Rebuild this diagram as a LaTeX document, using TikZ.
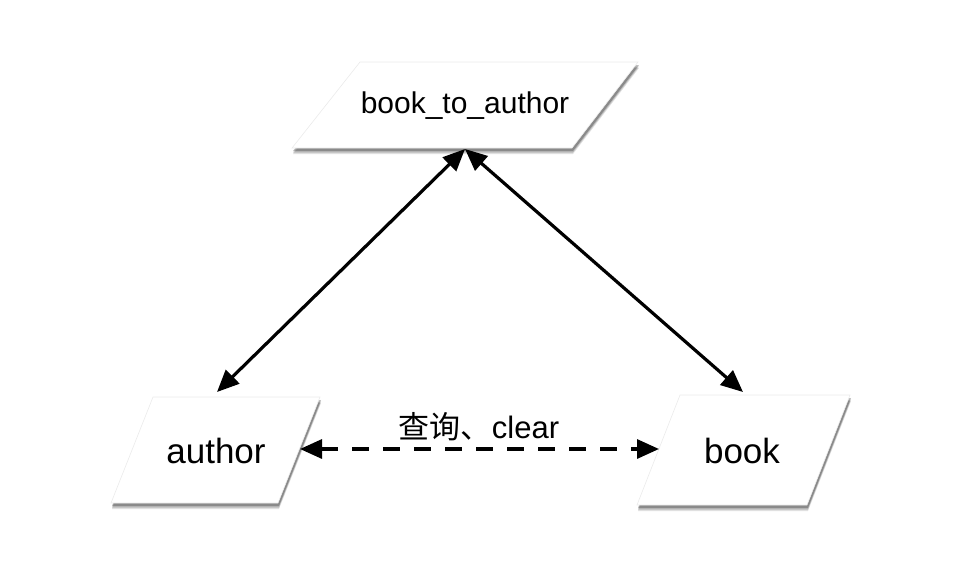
\documentclass[tikz,border=0pt]{standalone}
\usepackage{fontspec}
\setmainfont{Liberation Sans}
\newfontfamily\cjk{Noto Sans CJK SC}
\usetikzlibrary{arrows.meta}
\tikzset{
  pgram/.style={fill=white, draw=black!8, line width=0.6pt},
  conn/.style={line width=3.2pt, {Triangle[length=22pt,width=19pt]}-{Triangle[length=22pt,width=19pt]}},
  dconn/.style={conn, dash pattern=on 17pt off 14pt},
  lbl/.style={inner sep=0pt, text=black}
}
\begin{document}
\begin{tikzpicture}[x=1pt,y=-1pt]
\useasboundingbox (0,0) rectangle (970,576);
% shadows
\foreach \d/\o in {6/0.12,4.5/0.18,3/0.25}{
  \fill[black, opacity=\o] (360+1,62+\d) -- (638+1,62+\d) -- (572+1,148+\d) -- (292+1,148+\d) -- cycle;
  \fill[black, opacity=\o] (153+1,397+\d) -- (320+1,397+\d) -- (278+1,503+\d) -- (111+1,503+\d) -- cycle;
  \fill[black, opacity=\o] (680+1,395+\d) -- (850+1,395+\d) -- (807+1,505+\d) -- (637+1,505+\d) -- cycle;
}
% parallelograms
\path[pgram] (360,62) -- (638,62) -- (572,148) -- (292,148) -- cycle;
\path[pgram] (153,397) -- (320,397) -- (278,503) -- (111,503) -- cycle;
\path[pgram] (680,395) -- (850,395) -- (807,505) -- (637,505) -- cycle;
% labels
\node[lbl, font=\fontsize{30}{32}\selectfont] (bta) at (465,106) {book\_to\_author};
\node[lbl, font=\fontsize{35}{38}\selectfont] (author) at (216,451) {author};
\node[lbl, font=\fontsize{35}{38}\selectfont] (book) at (742,451) {book};
% connector endpoints
\coordinate (btaS) at (465,149);
\coordinate (authorN) at (217,392);
\coordinate (bookN) at (743,392);
\coordinate (authorE) at (300,449);
\coordinate (bookW) at (659,449);
\draw[conn] (btaS) -- (authorN);
\draw[conn] (btaS) -- (bookN);
\draw[dconn] (authorE) -- (bookW);
\node[lbl, font=\fontsize{31}{33}\selectfont, anchor=base] (q) at (479,438) {{\cjk 查询、}clear};
\end{tikzpicture}
\end{document}
